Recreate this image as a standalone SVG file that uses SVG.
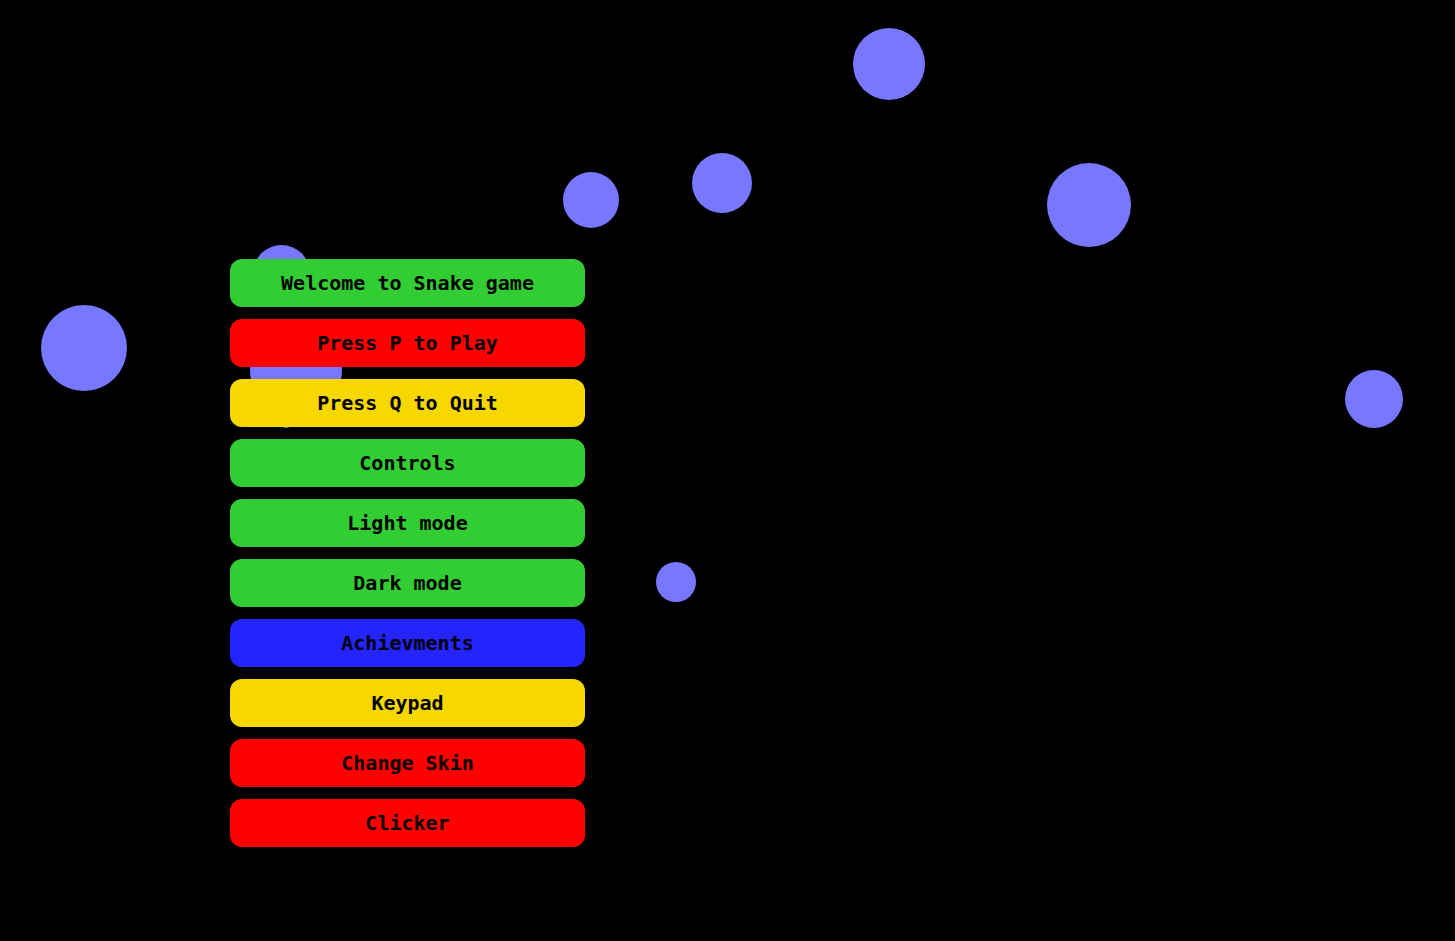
<svg xmlns="http://www.w3.org/2000/svg" width="1455" height="941" viewBox="0 0 1455 941">
<style>
.dot{fill:#7777FF}
.btn{rx:12px;ry:12px}
.lbl{font-family:"DejaVu Sans Mono","Liberation Mono",monospace;font-weight:bold;font-size:20px;fill:#000;text-anchor:middle;dominant-baseline:central}
.g{fill:#32CD32}.r{fill:#FF0000}.y{fill:#F6D800}.b{fill:#2424FF}
</style>
<rect x="0" y="0" width="1455" height="941" fill="#000"/>
<g id="bubbles">
<circle class="dot" cx="84" cy="348" r="43"/>
<circle class="dot" cx="281.5" cy="273.5" r="28.5"/>
<circle class="dot" cx="296" cy="370" r="46"/>
<circle class="dot" cx="286" cy="418" r="10"/>
<circle class="dot" cx="591" cy="200" r="28"/>
<circle class="dot" cx="722" cy="183" r="30"/>
<circle class="dot" cx="889" cy="64" r="36"/>
<circle class="dot" cx="1089" cy="205" r="42"/>
<circle class="dot" cx="1374" cy="399" r="29"/>
<circle class="dot" cx="676" cy="582" r="20"/>
</g>
<g id="connectors"></g>
<g id="n-welcome"><rect class="btn g" x="230" y="259" width="355" height="48"/><text class="lbl" x="407.5" y="283">Welcome to Snake game</text></g>
<g id="n-play"><rect class="btn r" x="230" y="319" width="355" height="48"/><text class="lbl" x="407.5" y="343">Press P to Play</text></g>
<g id="n-quit"><rect class="btn y" x="230" y="379" width="355" height="48"/><text class="lbl" x="407.5" y="403">Press Q to Quit</text></g>
<g id="n-controls"><rect class="btn g" x="230" y="439" width="355" height="48"/><text class="lbl" x="407.5" y="463">Controls</text></g>
<g id="n-light"><rect class="btn g" x="230" y="499" width="355" height="48"/><text class="lbl" x="407.5" y="523">Light mode</text></g>
<g id="n-dark"><rect class="btn g" x="230" y="559" width="355" height="48"/><text class="lbl" x="407.5" y="583">Dark mode</text></g>
<g id="n-achievements"><rect class="btn b" x="230" y="619" width="355" height="48"/><text class="lbl" x="407.5" y="643">Achievments</text></g>
<g id="n-keypad"><rect class="btn y" x="230" y="679" width="355" height="48"/><text class="lbl" x="407.5" y="703">Keypad</text></g>
<g id="n-skin"><rect class="btn r" x="230" y="739" width="355" height="48"/><text class="lbl" x="407.5" y="763">Change Skin</text></g>
<g id="n-clicker"><rect class="btn r" x="230" y="799" width="355" height="48"/><text class="lbl" x="407.5" y="823">Clicker</text></g>
</svg>
